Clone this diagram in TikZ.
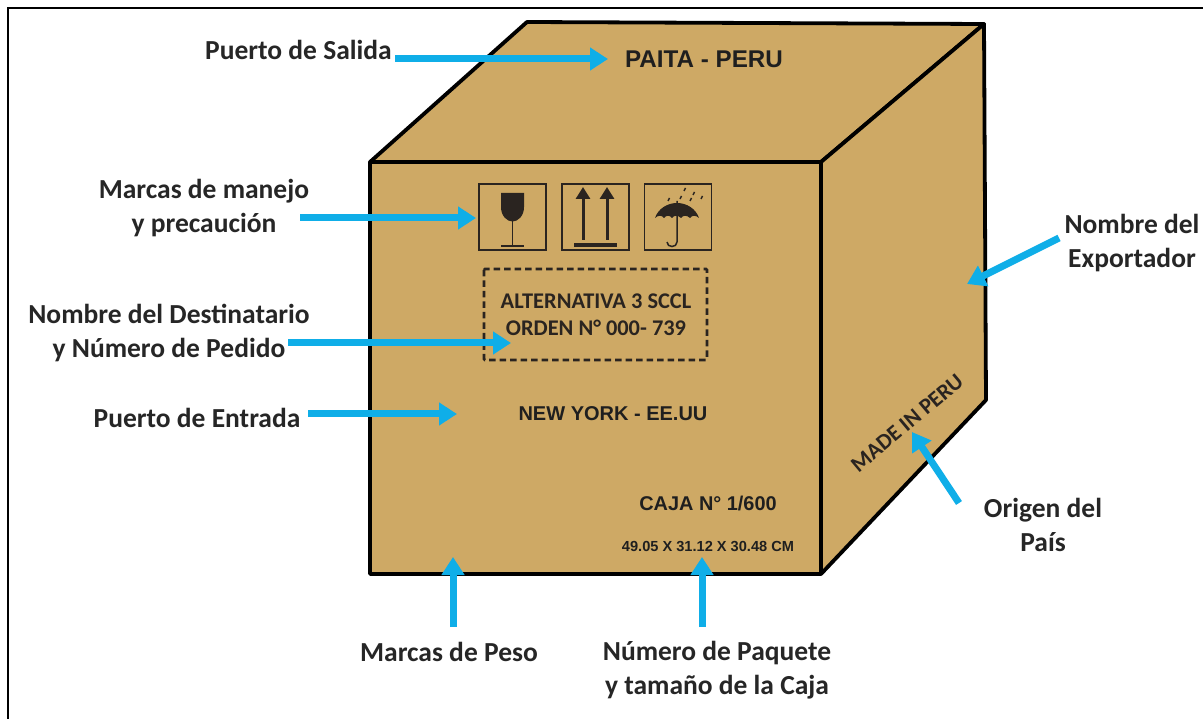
\documentclass[tikz,border=0pt]{standalone}
\usepackage{fontspec}
\setmainfont{Carlito}
\newfontfamily\arialf{Liberation Sans}
\usetikzlibrary{arrows.meta}
\definecolor{boxc}{HTML}{CEA965}
\definecolor{arrowc}{HTML}{0FAEE8}
\definecolor{inkc}{HTML}{262626}
\definecolor{markc}{HTML}{2A2420}
\tikzset{
 x=1pt,y=-1pt,
 lab/.style={font=\bfseries\fontsize{27.5}{34}\selectfont,text=inkc,align=center,inner sep=0pt},
 face/.style={fill=boxc,draw=black,line width=3.8pt,line join=round},
 pointer/.style={draw=arrowc,line width=7pt,-{Triangle[length=18pt,width=22pt]}},
 icon/.style={draw=markc,line width=1.7pt},
 boxtext/.style={text=markc,inner sep=0pt},
 inktext/.style={text=black!88,inner sep=0pt},
}
\begin{document}
\begin{tikzpicture}
\useasboundingbox (0,0) rectangle (1203,719);
\fill[white] (0,0) rectangle (1203,719);
\draw[black,line width=2.2pt] (8,719) -- (8,8) -- (1203,8);
% box
\draw[face] (370,162) -- (527,22) -- (984,24) -- (821,162) -- cycle;
\draw[face] (821,162) -- (984,24) -- (986,400) -- (821,574) -- cycle;
\draw[face] (370,162) rectangle (821,574);
% box texts
\node[inktext,font=\arialf\bfseries\fontsize{24.2}{26}\selectfont] (paita) at (704,59) {PAITA - PERU};
\node[boxtext,font=\bfseries\fontsize{22.4}{27}\selectfont,align=center] (alt) at (596,315) {ALTERNATIVA 3 SCCL\\ORDEN N° 000- 739};
\node[inktext,font=\arialf\bfseries\fontsize{20}{22}\selectfont] (ny) at (613,414) {NEW YORK - EE.UU};
\node[inktext,font=\arialf\bfseries\fontsize{19.9}{22}\selectfont] (caja) at (708,503) {CAJA N° 1/600};
\node[inktext,font=\arialf\bfseries\fontsize{14.6}{16}\selectfont] (dim) at (708,546) {49.05 X 31.12 X 30.48 CM};
\node[boxtext,font=\bfseries\fontsize{22.4}{25}\selectfont,rotate=40] (made) at (907,423) {MADE IN PERU};
% dashed box
\draw[markc,line width=2.8pt,dash pattern=on 6.5pt off 4pt,rounded corners=1pt] (484,269) rectangle (707,360);
% icon frames
\node[icon,minimum width=67pt,minimum height=66pt,inner sep=0pt] (i1) at (512.5,217) {};
\node[icon,minimum width=67pt,minimum height=66pt,inner sep=0pt] (i2) at (595.5,217) {};
\node[icon,minimum width=67pt,minimum height=66pt,inner sep=0pt] (i3) at (678,217) {};
% glass
\fill[markc] (501,193) -- (524,193) -- (524,207) .. controls (524,216) and (518,221.5) .. (512.5,221.5) .. controls (507,221.5) and (501,216) .. (501,207) -- cycle;
\draw[markc,line width=1.8pt] (512.5,221) -- (512.5,246) (501,246) -- (524,246);
% up arrows
\draw[markc,line width=3pt,-{Triangle[length=12pt,width=14pt]}] (583,240) -- (583,187);
\draw[markc,line width=3pt,-{Triangle[length=12pt,width=14pt]}] (607,240) -- (607,187);
\draw[markc,line width=3.2pt] (574,245) -- (617,245);
% umbrella
\fill[markc] (655,218) .. controls (658,209) and (667,203) .. (677,203) .. controls (687,203) and (696,209) .. (699,218)
 .. controls (696,215) and (692,215) .. (690,218) .. controls (687,215) and (683,215) .. (681,218)
 .. controls (678,215) and (674,215) .. (672,218) .. controls (670,215) and (666,215) .. (664,218)
 .. controls (662,215) and (658,215) .. (655,218) -- cycle;
\draw[markc,line width=1.5pt] (677,201) -- (677,242) .. controls (677,248) and (667,248) .. (667,242);
\foreach \a/\b in {668/201,684/191,693/195,701/199,690/201,680/199}
  \draw[markc,line width=1.4pt] (\a,\b) -- ++(1.5,-3);
% labels
\node[lab,anchor=west] (lsal) at (205,50) {Puerto de Salida};
\node[lab] (lman) at (204,208) {Marcas de manejo\\y precaución};
\node[lab] (ldes) at (169,333) {Nombre del Destinatario\\y Número de Pedido};
\node[lab] (lent) at (197,418) {Puerto de Entrada};
\node[lab] (lpes) at (449,652) {Marcas de Peso};
\node[lab] (lpaq) at (717,670) {Número de Paquete\\y tamaño de la Caja};
\node[lab] (lori) at (1043,524.5) {Origen del\\País};
\node[lab] (lexp) at (1132,243) {Nombre del\\Exportador};
% pointer ends
\coordinate (asal) at (395,59); \coordinate (bsal) at (608,59);
\coordinate (aman) at (300,218); \coordinate (bman) at (476,218);
\coordinate (ades) at (288,343); \coordinate (bdes) at (511,343);
\coordinate (aent) at (308,414); \coordinate (bent) at (457,414);
\coordinate (apes) at (453,627); \coordinate (bpes) at (453,557);
\coordinate (apaq) at (702,627); \coordinate (bpaq) at (702,557);
\coordinate (aori) at (959,503); \coordinate (bori) at (912,432);
\coordinate (aexp) at (1059,238); \coordinate (bexp) at (967,284);
\foreach \n in {sal,man,des,ent,pes,paq,ori,exp}
  \draw[pointer] (a\n) -- (b\n);
\end{tikzpicture}
\end{document}
